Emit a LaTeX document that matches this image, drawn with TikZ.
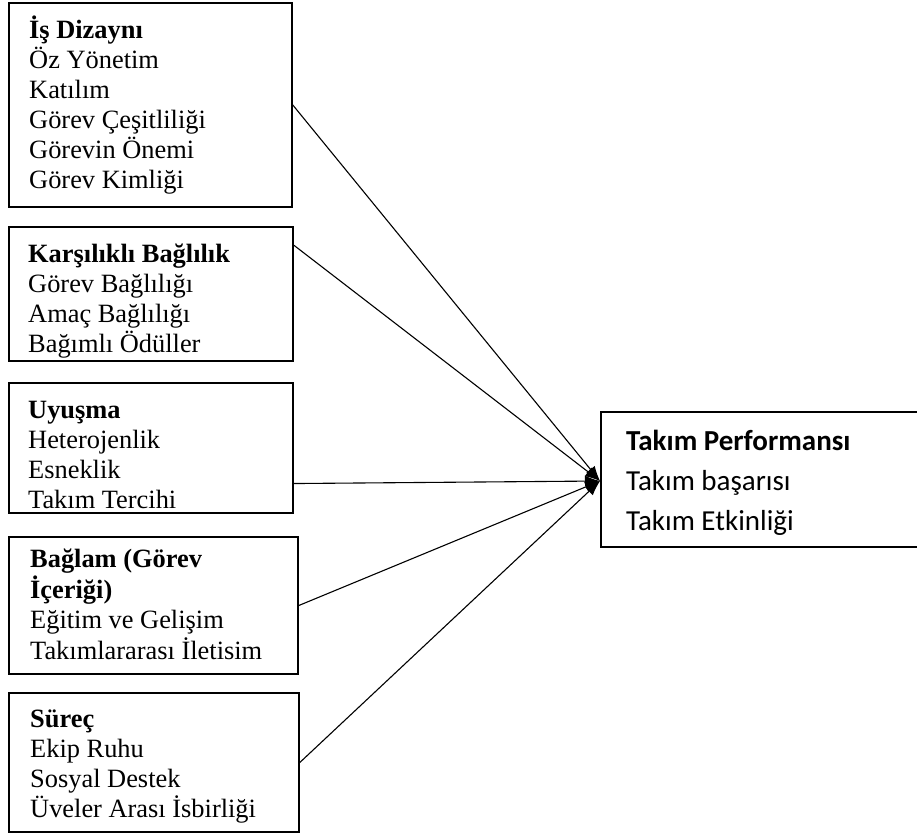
\documentclass[tikz,border=0pt]{standalone}
\usepackage{fontspec}
\setmainfont{Liberation Serif}
\newfontfamily\carlitofont{Carlito}
\usetikzlibrary{arrows.meta,calc}
\tikzset{
  box/.style={draw=black, line width=1.6pt, inner sep=0pt, rectangle},
  lbl/.style={inner sep=0pt, anchor=base west, font=\fontsize{26.4}{30}\selectfont},
  rlbl/.style={inner sep=0pt, anchor=base west, font=\carlitofont\fontsize{29}{40}\selectfont},
  conn/.style={draw=black, line width=1.1pt, -{Latex[length=15pt,width=11pt]}}
}
\begin{document}
\begin{tikzpicture}[x=1pt,y=-1pt]
\useasboundingbox (0,0) rectangle (917,835);
% boxes
\node[box, minimum width=283pt, minimum height=204pt] (b1) at (150.5,105) {};
\node[box, minimum width=284pt, minimum height=134pt] (b2) at (151,294) {};
\node[box, minimum width=284pt, minimum height=130pt] (b3) at (151,448) {};
\node[box, minimum width=289pt, minimum height=137pt] (b4) at (153.5,605.5) {};
\node[box, minimum width=290pt, minimum height=139pt] (b5) at (154,762.5) {};
\node[box, minimum width=319pt, minimum height=135pt] (rb) at (760.5,479.5) {};
% texts
\node[lbl] (t1) at (29,38) {\begin{tabular}[t]{@{}l@{}}\textbf{İş Dizaynı}\\Öz Yönetim\\Katılım\\Görev Çeşitliliği\\Görevin Önemi\\Görev Kimliği\end{tabular}};
\node[lbl] (t2) at (28,262) {\begin{tabular}[t]{@{}l@{}}\textbf{Karşılıklı Bağlılık}\\Görev Bağlılığı\\Amaç Bağlılığı\\Bağımlı Ödüller\end{tabular}};
\node[lbl] (t3) at (28,418) {\begin{tabular}[t]{@{}l@{}}\textbf{Uyuşma}\\Heterojenlik\\Esneklik\\Takım Tercihi\end{tabular}};
\node[lbl] (t4) at (30,567) {\begin{tabular}[t]{@{}l@{}}\textbf{Bağlam (Görev}\\\textbf{İçeriği)}\\Eğitim ve Gelişim\\Takımlararası İletisim\end{tabular}};
\node[lbl] (t5) at (30,727) {\begin{tabular}[t]{@{}l@{}}\textbf{Süreç}\\Ekip Ruhu\\Sosyal Destek\\Üveler Arası İsbirliği\end{tabular}};
\node[rlbl] (t6) at (626,450) {\begin{tabular}[t]{@{}l@{}}\textbf{Takım Performansı}\\Takım başarısı\\Takım Etkinliği\end{tabular}};
% connectors
\coordinate (tip) at (600,481);
\draw[conn] ($(b1.north east)!0.5!(b1.south east)$) -- (tip);
\draw[conn] ($(b2.north east)!0.14!(b2.south east)$) -- (tip);
\draw[conn] ($(b3.north east)!0.77!(b3.south east)$) -- (tip);
\draw[conn] ($(b4.north east)!0.5!(b4.south east)$) -- (tip);
\draw[conn] ($(b5.north east)!0.5!(b5.south east)$) -- (tip);
\end{tikzpicture}
\end{document}
